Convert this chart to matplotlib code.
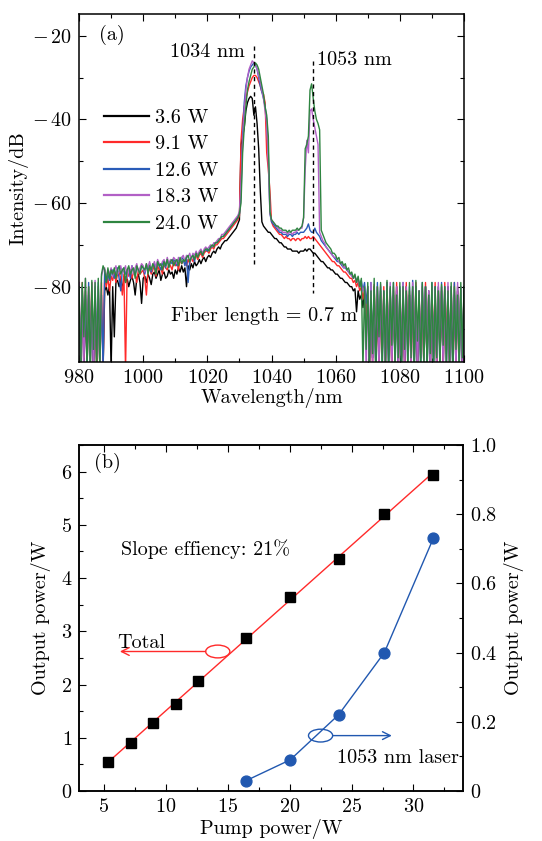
import numpy as np
import matplotlib
matplotlib.use('Agg')
import matplotlib.pyplot as plt
from matplotlib.patches import Ellipse
from matplotlib.ticker import MultipleLocator, FuncFormatter

FS = 14.5
plt.rcParams.update({
    'font.family': 'serif', 'font.serif': ['cmr10'], 'mathtext.fontset': 'cm',
    'axes.formatter.use_mathtext': True, 'font.size': FS,
})

# ---------------- panel (a) data: spectra on a 0.5 nm grid, 980-1100 nm ----------------
wl_start, wl_step = 980.0, 0.5
labels_a = ['3.6 W', '9.1 W', '12.6 W', '18.3 W', '24.0 W']
colors_a = ['#000000', '#ff2a2a', '#2a5cb8', '#b260c6', '#2e8540']

spec_36 = (
    [-82, -100, -81, -100, -83, -100, -82, -100, -81, -100, -83, -100, -82, -100, -100, -100, -81, -80, -82, -79.5]
    + [-100, -80, -92, -79, -78.5, -80, -78, -81, -77.5, -79, -78, -80, -78.5, -77.5, -79, -82, -78, -77, -79, -84]
    + [-78, -77.5, -79, -77, -78, -79.5, -77, -76.5, -78, -77, -76, -78.5, -77, -76.5, -78, -77.5, -76, -77, -76.5, -78]
    + [-76, -77, -75.5, -76.5, -75, -76.5, -75.5, -80, -75, -76, -74.5, -75.5, -74, -75, -74.5, -73.5, -74.5, -73.5, -73, -74]
    + [-73, -72.5, -73, -72, -71.5, -72, -71, -70.5, -71, -70, -69.5, -69, -69, -68.5, -68, -67.5, -67, -66.5, -66, -65]
    + [-64, -46, -44, -42, -38, -36, -35, -34.5, -35, -39, -37, -41, -47, -57, -64.5, -65.5, -66, -66.5, -67, -67]
    + [-67.5, -68, -68.5, -68.5, -69, -69.5, -69.5, -70, -70.5, -70.5, -71, -71, -71, -71.5, -71.5, -71.5, -71.5, -72, -71.5, -71.5]
    + [-71.5, -71, -71.5, -71, -71, -71.5, -72, -72, -72.5, -73, -73.5, -74, -74, -74.5, -75, -75.5, -75.5, -76, -76, -76.5]
    + [-77, -77, -77.5, -78, -78, -78.5, -79, -79, -79.5, -80, -80, -81, -80.5, -86, -81, -83, -82, -85, -81, -90]
    + [-81, -100, -82, -97, -80, -100, -83, -100, -81, -96, -82, -100, -80, -98, -81, -100, -82, -97, -80, -100]
    + [-82, -99, -81, -100, -80, -96, -82, -100, -81, -98, -80, -100, -82, -97, -81, -100, -80, -99, -82, -100]
    + [-81, -98, -82, -100, -80, -97, -81, -100, -82, -96, -80, -100, -81, -99, -82, -100, -80, -97, -81, -100]
    + [-81])

spec_91 = (
    [-80, -100, -79, -97, -81, -100, -80, -94, -79, -100, -81, -98, -80, -100, -79, -100, -77, -80, -78, -81]
    + [-77.5, -78.5, -76.5, -79, -77, -76.5, -78, -82, -77, -100, -76.5, -77.5, -76, -78, -76.5, -77, -79, -76, -77, -76.5]
    + [-76, -78, -82, -76.5, -75.5, -77, -76, -75, -77.5, -75, -76, -75.5, -77, -74.5, -75.5, -76, -74.5, -75, -76, -74]
    + [-75, -74, -76, -73.5, -74.5, -74, -73.5, -75, -73.5, -74.5, -73, -74, -73, -72.5, -73.5, -72.5, -72, -73, -72, -71.5]
    + [-71.5, -72, -71, -70.5, -71, -70, -70, -69.5, -69, -68.5, -68.5, -68, -67.5, -67, -66.5, -66, -65.5, -65, -64.5, -64]
    + [-63, -45, -40, -37, -35, -33.5, -32, -31, -30, -29.5, -29.5, -30, -31, -32, -33.5, -34, -36, -48, -52, -57]
    + [-64.5, -65.5, -66, -66.5, -67, -67.5, -67.5, -68, -68.5, -68, -68.5, -68.5, -69, -68.5, -68.5, -69, -68.5, -68.5, -69, -68.5]
    + [-68.5, -68, -68.5, -68, -68.5, -68.5, -68, -68.5, -69, -69.5, -70, -70.5, -71, -71.5, -72, -72.5, -73, -73.5, -74, -74]
    + [-74.5, -75, -75, -75.5, -76, -76.5, -76.5, -77, -77.5, -78, -78, -79, -78.5, -80, -79, -81, -80, -83, -81, -90]
    + [-80, -100, -81, -100, -79.5, -96, -80, -100, -82, -97, -80, -100, -79, -95, -81, -100, -80, -98, -79, -100]
    + [-81, -97, -80, -100, -79, -95, -81, -100, -80, -98, -79, -100, -81, -96, -80, -100, -79, -97, -81, -100]
    + [-80, -96, -79, -100, -81, -98, -80, -100, -79, -95, -81, -100, -80, -97, -79, -100, -81, -98, -80, -100]
    + [-80])

spec_126 = (
    [-81, -100, -80, -96, -82, -100, -79, -98, -81, -100, -80, -95, -79, -100, -82, -100, -76, -79, -77, -78.5]
    + [-77, -76, -78, -76.5, -75.5, -78, -81, -76, -75.5, -77, -76, -75.5, -78, -75, -76.5, -77, -75.5, -76, -76.5, -75]
    + [-75.5, -77, -75, -76, -74.5, -76.5, -75, -74.5, -76, -74, -75, -76, -74.5, -74, -75.5, -73.5, -75, -74, -74.5, -73.5]
    + [-74, -75, -73.5, -74, -73, -73.5, -75, -73, -79, -74, -73, -72.5, -74, -72, -72.5, -72, -71.5, -72.5, -71.5, -71]
    + [-71.5, -71, -70.5, -70.5, -70, -69.5, -69.5, -69, -68.5, -68, -68, -67.5, -67, -66.5, -66, -65.5, -65, -64.5, -64, -63.5]
    + [-62.5, -58, -44, -36, -32, -30, -28.5, -27.5, -27, -26.5, -27, -28, -30, -32, -33.5, -35, -37, -40, -48, -62.5]
    + [-64.5, -65, -65.5, -66, -66.5, -67, -67, -67.5, -67.5, -67.5, -68, -67.5, -67.5, -68, -67.5, -67.5, -67, -67.5, -67, -67]
    + [-67, -66.5, -66, -65, -66.5, -67, -67, -66, -67, -67.5, -68, -69, -69.5, -70, -70.5, -71, -71.5, -72, -72.5, -73]
    + [-73.5, -74, -74, -74.5, -75, -75.5, -75.5, -76, -76.5, -77, -77, -78, -77.5, -78.5, -78, -80, -78.5, -81, -79, -84]
    + [-80, -100, -79, -97, -81, -100, -79, -95, -80, -100, -81, -98, -79, -100, -80.5, -96, -79, -100, -81, -99]
    + [-80, -100, -79, -97, -81, -100, -80, -96, -78.5, -100, -80, -99, -81, -100, -79, -95, -80, -100, -81, -98]
    + [-79, -100, -80, -97, -81, -100, -79, -96, -80, -100, -82, -98, -80, -100, -79, -97, -81, -100, -80, -99]
    + [-80])

spec_183 = (
    [-79, -97, -80, -100, -78, -94, -81, -100, -79, -100, -78.5, -97, -80, -100, -77.5, -76, -75.5, -78, -76, -77]
    + [-75.5, -77.5, -76, -75, -77, -76.5, -75, -77, -76, -75, -78, -75.5, -76.5, -75, -77, -75.5, -74.5, -76.5, -75.5, -74.5]
    + [-75, -76.5, -74.5, -75.5, -74, -76, -75, -74, -75.5, -73.5, -74.5, -75, -74, -73.5, -75, -73, -74.5, -73.5, -74, -73]
    + [-73.5, -74.5, -73, -74, -73, -72.5, -74, -72.5, -73, -72, -73.5, -72, -72.5, -71.5, -72.5, -71.5, -71, -72, -71, -70.5]
    + [-71, -70.5, -70, -70.5, -69.5, -69.5, -69, -68.5, -68.5, -67.5, -67.5, -67, -66.5, -66, -65.5, -65, -64.5, -64, -63.5, -63]
    + [-62, -55, -46, -38, -33, -30, -28, -27, -26, -26.5, -27, -28, -29.5, -31, -33, -35, -38, -41, -50, -62.5]
    + [-64, -64.5, -65, -65.5, -66, -66.5, -66.5, -67, -67, -67, -67.5, -67, -67, -67.5, -67, -67, -66.5, -66.5, -66, -66]
    + [-63.5, -52, -45, -48, -38, -37.5, -40, -42, -44, -46, -67, -68, -69, -69.5, -70.5, -71, -71.5, -72, -72.5, -73]
    + [-73, -73.5, -74, -74.5, -74.5, -75.5, -75, -76, -76.5, -77, -77.5, -78, -77.5, -79, -78.5, -80, -79.5, -81, -80, -100]
    + [-80, -98, -79, -100, -81, -95, -80, -100, -79.5, -97, -82, -100, -80, -93, -79, -100, -81, -99, -80, -100]
    + [-81, -96, -79, -100, -80, -98, -82, -100, -79, -94, -80, -100, -81, -97, -79.5, -100, -80, -95, -81, -100]
    + [-80, -97, -81, -100, -79, -96, -80, -100, -82, -99, -79, -100, -80, -94, -81, -100, -79, -98, -80, -100]
    + [-81])

spec_240 = (
    [-80, -100, -79, -92, -78, -100, -80, -100, -78.5, -95, -79, -100, -78, -100, -77, -75, -76, -79, -75.5, -78]
    + [-76, -77, -75.5, -78, -76, -75, -77, -76, -75.5, -79, -76, -75, -77, -76, -75.5, -78, -75, -76, -77, -75]
    + [-75.5, -76, -74.5, -77, -75, -76, -74.5, -75.5, -77, -74, -75, -74.5, -76, -74, -75, -73.5, -75.5, -74, -73.5, -75]
    + [-74, -73.5, -75, -73, -74.5, -73.5, -74, -73, -72.5, -74, -73, -72.5, -73.5, -72, -73, -72, -71.5, -72.5, -71.5, -71]
    + [-71, -71.5, -70.5, -70, -70.5, -69.5, -69.5, -69, -68.5, -68, -68, -67.5, -67, -66.5, -66, -65.5, -65, -64.5, -64, -63.5]
    + [-62.5, -60, -48, -42, -37, -33, -31, -29.5, -28, -27.5, -26.5, -27, -28, -30, -32, -34, -37, -39, -44, -62]
    + [-64, -64.5, -65, -65.5, -65.5, -66, -66, -66.5, -66.5, -66.5, -67, -66.5, -67, -66.5, -66.5, -66.5, -66, -66.5, -66, -65.5]
    + [-63.5, -47, -46, -44, -33, -31.5, -35, -38, -40, -41, -42.5, -66.5, -67.5, -68.5, -69.5, -70, -70.5, -71, -72, -72]
    + [-72.5, -73.5, -73, -74.5, -74, -75, -74.5, -76, -75.5, -77, -76.5, -78, -77, -79, -77.5, -80, -78, -100, -80, -95]
    + [-79, -100, -81, -96, -78, -100, -80, -92, -79, -100, -81, -98, -78.5, -100, -80, -94, -79, -100, -82, -97]
    + [-79, -100, -80, -95, -81, -100, -79, -97, -80, -100, -78.5, -93, -81, -100, -79, -99, -80, -100, -82, -96]
    + [-79, -100, -80, -97, -81, -100, -79.5, -94, -80, -100, -81, -98, -79, -100, -80, -95, -82, -100, -79, -97]
    + [-80])

spectra = [spec_36, spec_91, spec_126, spec_183, spec_240]

# dashed marker lines (wavelength, y from, y to)
mark_wl = [1034.5, 1052.8]
mark_top = [-22.5, -26.0]
mark_bot = [-74.5, -81.5]

# ---------------- panel (b) data ----------------
pump_total = [5.3, 7.2, 9.0, 10.8, 12.6, 16.5, 20.05, 23.95, 27.65, 31.6]
out_total = [0.54, 0.90, 1.28, 1.64, 2.07, 2.88, 3.65, 4.36, 5.20, 5.94]
pump_1053 = [16.5, 20.05, 23.95, 27.65, 31.6]
out_1053 = [0.03, 0.09, 0.22, 0.40, 0.73]

fig = plt.figure(figsize=(5.42, 8.41), dpi=100)

# ================= panel (a) =================
ax1 = fig.add_axes([0.1458, 0.5696, 0.7103, 0.4138])
for s, lab, c in zip(spectra, labels_a, colors_a):
    s = np.asarray(s, dtype=float)
    wl = wl_start + wl_step * np.arange(len(s))
    ax1.plot(wl, s, color=c, lw=1.0, label=lab)
for w, t, b in zip(mark_wl, mark_top, mark_bot):
    ax1.plot([w, w], [t, b], color='black', lw=1.0, ls=(0, (3, 2.5)))

ax1.set_xlim(980, 1100)
ax1.set_ylim(-98, -14.8)
ax1.xaxis.set_major_locator(MultipleLocator(20))
ax1.xaxis.set_minor_locator(MultipleLocator(10))
ax1.yaxis.set_major_locator(MultipleLocator(20))
ax1.yaxis.set_minor_locator(MultipleLocator(10))
ax1.yaxis.set_major_formatter(FuncFormatter(
    lambda v, p: (r'$-\,%d$' % abs(v)) if v < 0 else r'$%d$' % v))
ax1.xaxis.set_major_formatter(FuncFormatter(lambda v, p: r'$%d$' % v))
ax1.tick_params(which='both', direction='in', top=True, right=True, width=0.8)
ax1.tick_params(which='major', length=5, labelsize=FS, pad=5)
ax1.tick_params(which='minor', length=3)
ax1.tick_params(axis='x', which='both', labeltop=False)
ax1.set_xlabel('Wavelength/nm', fontsize=FS, labelpad=1)
ax1.set_ylabel('Intensity/dB', fontsize=FS, labelpad=3)
for sp in ax1.spines.values():
    sp.set_linewidth(1.1)

ax1.text(986.3, -19.8, '(a)', ha='left', va='center', fontsize=FS)
ax1.text(1031.8, -23.8, '1034 nm', ha='right', va='center', fontsize=FS)
ax1.text(1054.2, -25.8, '1053 nm', ha='left', va='center', fontsize=FS)
ax1.text(1008.6, -87.0, 'Fiber length = 0.7 m', ha='left', va='center', fontsize=FS)

leg = ax1.legend(loc='upper left', bbox_to_anchor=(0.064, 0.728), frameon=False,
                 fontsize=FS, handlelength=2.25, handletextpad=0.3,
                 labelspacing=0.42, borderpad=0, borderaxespad=0)
for h in leg.get_lines():
    h.set_linewidth(1.6)

# ================= panel (b) =================
ax3 = fig.add_axes([0.1458, 0.0595, 0.7085, 0.4114])
ax4 = ax3.twinx()

coef = np.polyfit(pump_total, out_total, 1)
fit_x = np.array([pump_total[0], pump_total[-1]])
ax3.plot(fit_x, np.polyval(coef, fit_x), color='#ff2a2a', lw=1.0, zorder=2)
ax3.plot(pump_total, out_total, ls='none', marker='s', ms=7.5, color='black', zorder=3)
ax4.plot(pump_1053, out_1053, color='#2158b0', lw=1.0, marker='o', ms=7.8,
         markerfacecolor='#2158b0', markeredgecolor='#2158b0')

ax3.set_xlim(3, 34)
ax3.set_ylim(0, 6.5)
ax4.set_ylim(0, 1.0)
ax3.xaxis.set_major_locator(MultipleLocator(5))
ax3.xaxis.set_minor_locator(MultipleLocator(2.5))
ax3.yaxis.set_major_locator(MultipleLocator(1))
ax3.yaxis.set_minor_locator(MultipleLocator(0.5))
ax4.yaxis.set_major_locator(MultipleLocator(0.2))
ax4.yaxis.set_minor_locator(MultipleLocator(0.1))
ax3.xaxis.set_major_formatter(FuncFormatter(lambda v, p: r'$%d$' % v))
ax3.yaxis.set_major_formatter(FuncFormatter(lambda v, p: r'$%d$' % v))
ax4.yaxis.set_major_formatter(FuncFormatter(
    lambda v, p: r'$0$' if abs(v) < 1e-9 else r'$%.1f$' % v))
ax3.tick_params(which='both', direction='in', top=True, right=False, width=0.8)
ax3.tick_params(which='major', length=5, labelsize=FS, pad=5)
ax3.tick_params(which='minor', length=3)
ax3.tick_params(axis='x', which='both', labeltop=False)
ax4.tick_params(which='both', direction='in', width=0.8)
ax4.tick_params(which='major', length=5, labelsize=FS, pad=5)
ax4.tick_params(which='minor', length=3)
ax3.set_xlabel('Pump power/W', fontsize=FS, labelpad=2)
ax3.set_ylabel('Output power/W', fontsize=FS, labelpad=7)
ax4.set_ylabel('Output power/W', fontsize=FS, rotation=90, labelpad=5)
for a in (ax3, ax4):
    for sp in a.spines.values():
        sp.set_linewidth(1.1)

ax3.text(4.2, 6.17, '(b)', ha='left', va='center', fontsize=FS)
ax3.text(6.4, 4.55, 'Slope effiency: 21%', ha='left', va='center', fontsize=FS)
ax3.text(6.1, 2.78, 'Total', ha='left', va='center', fontsize=FS)
ax4.text(23.8, 0.095, '1053 nm laser', ha='left', va='center', fontsize=FS)

# red ellipse + arrow (Total -> left axis)
ax3.add_patch(Ellipse((14.2, 2.62), 1.95, 0.24, fill=False, ec='#ff2a2a', lw=1.0))
ax3.annotate('', xy=(6.3, 2.62), xytext=(13.22, 2.62),
             arrowprops=dict(arrowstyle='->', color='#ff2a2a', lw=1.0,
                             shrinkA=0, shrinkB=0, mutation_scale=14))
# blue ellipse + arrow (1053 nm -> right axis)
ax4.add_patch(Ellipse((22.5, 0.16), 1.95, 0.037, fill=False, ec='#2158b0', lw=1.0))
ax4.annotate('', xy=(28.25, 0.16), xytext=(23.48, 0.16),
             arrowprops=dict(arrowstyle='->', color='#2158b0', lw=1.0,
                             shrinkA=0, shrinkB=0, mutation_scale=14))

fig.savefig('out.png', dpi=100)
